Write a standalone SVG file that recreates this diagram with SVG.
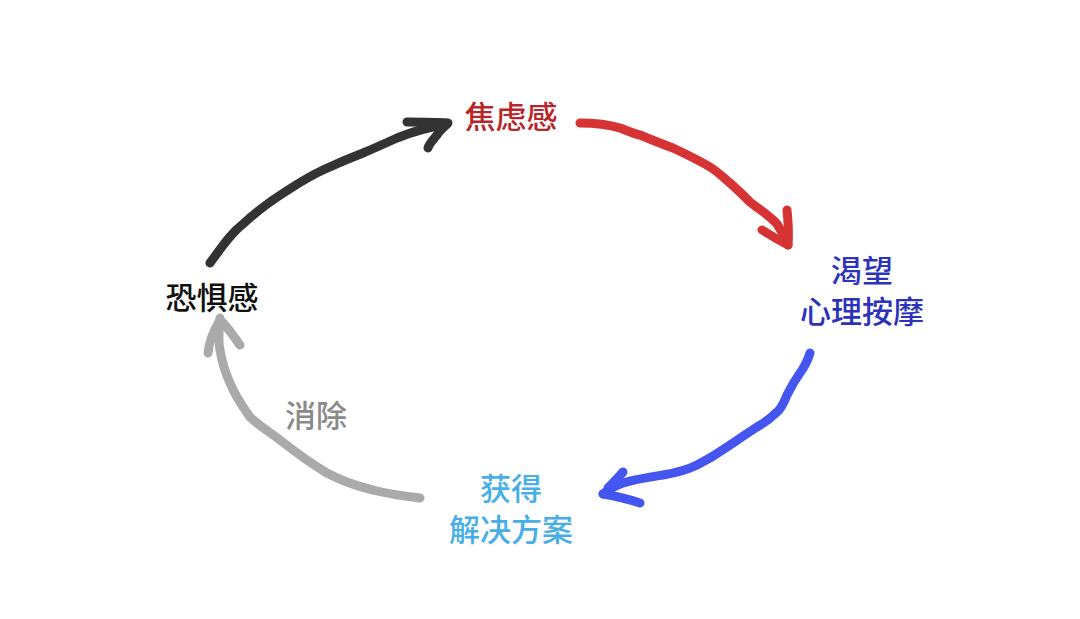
<svg xmlns="http://www.w3.org/2000/svg" width="1080" height="619" viewBox="0 0 1080 619">
<style>
.t{font-family:"Noto Sans CJK SC","Noto Sans",sans-serif;font-size:31px;font-weight:500;text-anchor:middle}
.s{fill:none;stroke-width:9;stroke-linecap:round;stroke-linejoin:round}
</style>
<rect width="1080" height="619" fill="#ffffff"/>
<g id="connectors">
<g id="c-fear-anxiety" class="s" stroke="#333333">
<path d="M210,263 C222,247 230,234 243,224 C258,210 272,200 288,190 C302,181 312,175 323,170 C338,163 350,158 363,153 C375,148 386,143 397,138 C414,131 430,127 447,124"/>
<path d="M407,122 C422,122 436,122 448,123 C443,128 439,131 437,135 C433,140 429,144 428,148"/>
</g>
<g id="c-anxiety-desire" class="s" stroke="#d63434">
<path d="M580,123 C598,123 610,125 620,128 C628,131 634,134 640,135 C652,140 662,144 673,148 C688,155 700,161 710,167 C718,172 724,178 730,183 C738,190 744,196 750,202 C760,210 770,216 777,224 C782,232 786,239 788,245"/>
<path d="M762,230 C772,236 780,241 788,245 C789,233 788,220 787,210"/>
</g>
<g id="c-desire-solution" class="s" stroke="#4455f0">
<path d="M810,353 C808,360 805,366 800,373 C795,380 791,387 787,395 C784,402 782,408 777,412 C770,419 764,423 757,427 C746,434 736,441 727,447 C717,454 707,460 697,465 C687,470 675,473 663,475 C650,477 636,479 623,483 C614,486 608,490 603,494"/>
<path d="M623,472 C618,478 613,483 608,488"/>
<path d="M640,503 C628,499 615,496 603,494"/>
</g>
<g id="c-solution-fear" class="s" stroke="#aaaaaa">
<path d="M420,498 C403,496 388,494 373,490 C356,486 340,480 327,473 C310,463 294,451 280,440 C268,431 258,425 250,417 C242,406 235,395 230,383 C225,372 222,362 220,350 C218,340 219,328 220,318"/>
<path d="M208,353 C209,343 212,333 220,320 C228,327 234,337 240,345"/>
</g>
</g>
<g id="n-anxiety"><text class="t" x="511" y="128" fill="#b8262a">焦虑感</text></g>
<g id="n-desire"><text class="t" x="862" y="282" fill="#2b32bb">渴望</text><text class="t" x="862" y="323" fill="#2b32bb">心理按摩</text></g>
<g id="n-solution"><text class="t" x="511" y="500" fill="#47aee8">获得</text><text class="t" x="511" y="541" fill="#47aee8">解决方案</text></g>
<g id="n-fear"><text class="t" x="212" y="309" fill="#111111">恐惧感</text></g>
<g id="l-eliminate"><text class="t" x="316" y="427" fill="#8a8a8a">消除</text></g>
</svg>
